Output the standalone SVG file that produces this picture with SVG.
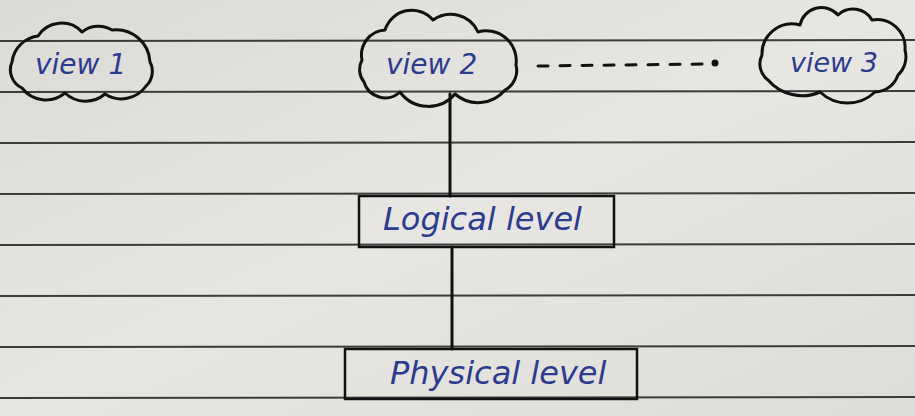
<svg xmlns="http://www.w3.org/2000/svg" width="915" height="416" viewBox="0 0 915 416">
<defs>
<linearGradient id="paper" x1="0" y1="0" x2="1" y2="1">
<stop offset="0" stop-color="#dcdad6"/>
<stop offset="0.5" stop-color="#e8e6e2"/>
<stop offset="1" stop-color="#dedcd6"/>
</linearGradient>
</defs>
<style>
.rule{stroke:#3c3c3c;stroke-width:2;fill:none}
.ink{stroke:#111;stroke-width:3;fill:none;stroke-linecap:round;stroke-linejoin:round}
.box{stroke:#111;stroke-width:2.5;fill:none}
.lbl{font-family:"DejaVu Sans",sans-serif;font-style:oblique;fill:#2b3c8e}
</style>
<rect width="915" height="416" fill="url(#paper)"/>
<g id="rules">
<line class="rule" x1="0" y1="41" x2="915" y2="40"/>
<line class="rule" x1="0" y1="92" x2="915" y2="91"/>
<line class="rule" x1="0" y1="143" x2="915" y2="142"/>
<line class="rule" x1="0" y1="194" x2="915" y2="193"/>
<line class="rule" x1="0" y1="245" x2="915" y2="244"/>
<line class="rule" x1="0" y1="296" x2="915" y2="295"/>
<line class="rule" x1="0" y1="347" x2="915" y2="346"/>
<line class="rule" x1="0" y1="398" x2="915" y2="397"/>
</g>
<g id="connectors">
<line class="ink" x1="450" y1="94" x2="450" y2="196"/>
<line class="ink" x1="452" y1="247" x2="452" y2="349"/>
<line class="ink" x1="538" y1="66" x2="705" y2="64" stroke-dasharray="10,12"/>
<circle cx="715" cy="63" r="3.5" fill="#111"/>
</g>
<g id="view1">
<path class="ink" d="M12,62 A30,30 0 0 1 38,36 A28,28 0 0 1 82,32 A26,26 0 0 1 112,30 A34,34 0 0 1 150,62 A20,20 0 0 1 146,86 A30,30 0 0 1 105,94 A30,30 0 0 1 65,93 A30,30 0 0 1 22,88 A20,20 0 0 1 12,62 Z"/>
<text class="lbl" x="35" y="74" font-size="28">view 1</text>
</g>
<g id="view2">
<path class="ink" d="M362,60 A25,25 0 0 1 385,30 A28,28 0 0 1 433,20 A30,30 0 0 1 478,32 A30,30 0 0 1 516,65 A22,22 0 0 1 505,90 A35,35 0 0 1 455,94 A35,35 0 0 1 400,92 A22,22 0 0 1 364,82 A20,20 0 0 1 362,60 Z"/>
<text class="lbl" x="386" y="74" font-size="28">view 2</text>
</g>
<g id="view3">
<path class="ink" d="M762,55 A30,30 0 0 1 800,25 A22,22 0 0 1 838,15 A22,22 0 0 1 872,20 A28,28 0 0 1 905,50 A25,25 0 0 1 898,75 A25,25 0 0 1 875,92 A40,40 0 0 1 820,92 A45,45 0 0 1 768,80 A20,20 0 0 1 762,55 Z"/>
<text class="lbl" x="790" y="72" font-size="27">view 3</text>
</g>
<g id="logical">
<rect class="box" x="359" y="196" width="255" height="51"/>
<text class="lbl" x="383" y="230" font-size="32">Logical level</text>
</g>
<g id="physical">
<rect class="box" x="345" y="349" width="292" height="50"/>
<text class="lbl" x="390" y="384" font-size="32">Physical level</text>
</g>
</svg>
